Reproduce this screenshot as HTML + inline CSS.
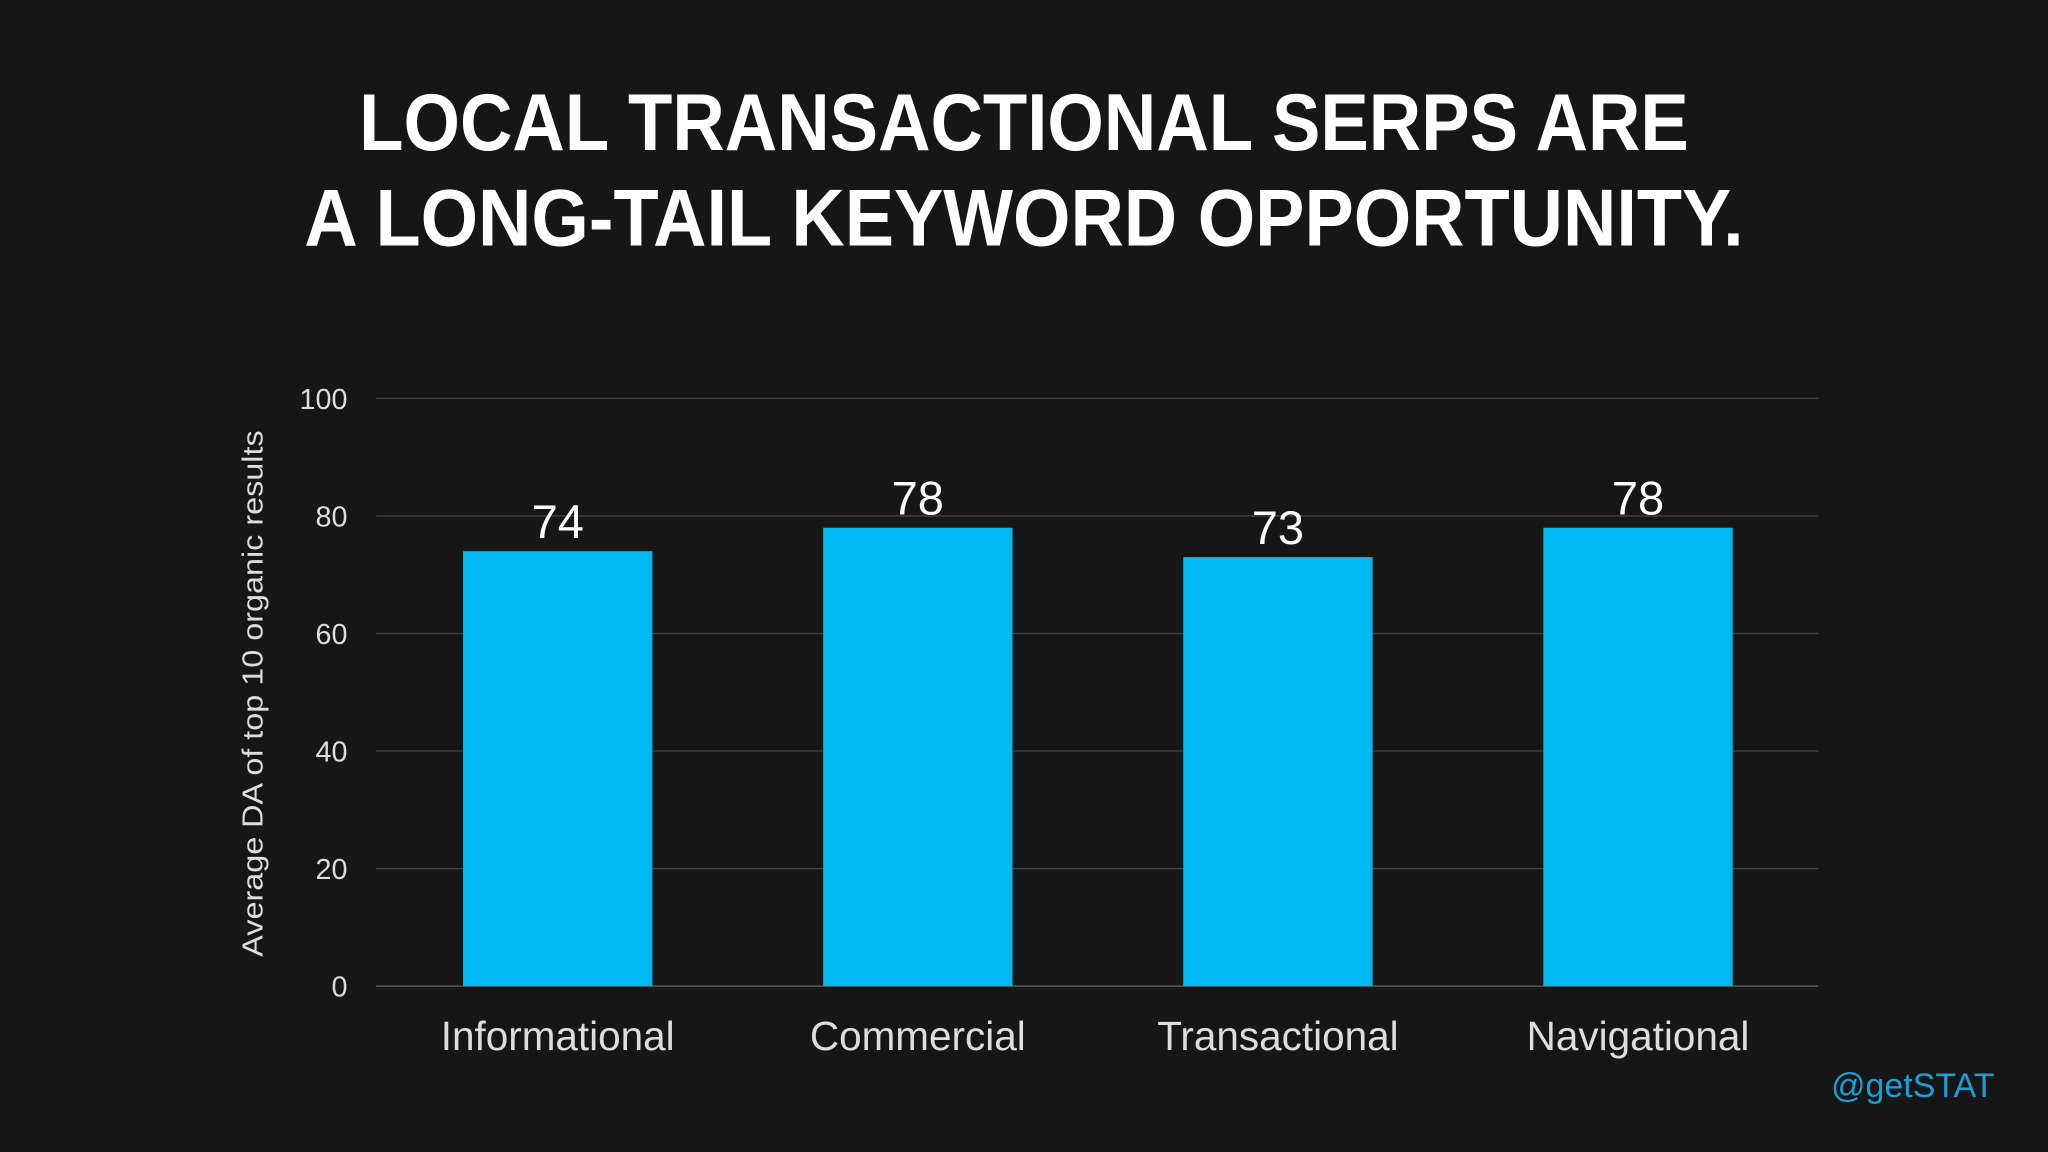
<!DOCTYPE html>
<html><head><meta charset="utf-8"><style>
html,body{margin:0;padding:0;background:#161616;}
svg{display:block;}
text{font-family:"Liberation Sans",sans-serif;}
</style></head><body>
<svg id="chart" width="2048" height="1152" viewBox="0 0 1568 882" xmlns="http://www.w3.org/2000/svg">
<rect width="1568" height="882" fill="#161616"/>
<text x="784" y="115" text-anchor="middle" fill="#fff" font-weight="bold" font-size="62" textLength="1018" lengthAdjust="spacingAndGlyphs">LOCAL TRANSACTIONAL SERPS ARE</text>
<text x="784" y="188" text-anchor="middle" fill="#fff" font-weight="bold" font-size="62" textLength="1102" lengthAdjust="spacingAndGlyphs">A LONG-TAIL KEYWORD OPPORTUNITY.</text>
<g id="grid"></g>
<g id="bars"></g>
<text transform="translate(201,531) rotate(-90)" text-anchor="middle" fill="#ddd" font-size="22" textLength="403" lengthAdjust="spacingAndGlyphs">Average DA of top 10 organic results</text>
<text x="1527" y="840" text-anchor="end" fill="#1a9fd8" font-size="26">@getSTAT</text>
</svg>
<script>
const categories = ["Informational","Commercial","Transactional","Navigational"];
const values = [74,78,73,78];
const ticks = [0,20,40,60,80,100];
const NS="http://www.w3.org/2000/svg";
const y0=755, y100=305, xL=288, xR=1392;
function yScale(v){return y0-(v/100)*(y0-y100);}
function xCenter(i){return 427+i*275.7;}
const grid=document.getElementById('grid'), bars=document.getElementById('bars');
function mk(tag,attrs,parent){const e=document.createElementNS(NS,tag);for(const k in attrs)e.setAttribute(k,attrs[k]);parent.appendChild(e);return e;}
ticks.forEach(t=>{
  const l=mk('line',{x1:xL,x2:xR,y1:yScale(t),y2:yScale(t),stroke:t===0?'#666':'#444','stroke-width':1},grid);
  
  
  const tx=mk('text',{x:266,y:yScale(t)+8,'text-anchor':'end',fill:'#ddd','font-size':22},grid);
  tx.textContent=t;
  
  
});
values.forEach((v,i)=>{
  const cx=xCenter(i), w=145;
  const r=mk('rect',{x:cx-w/2,y:yScale(v),width:w,height:y0-yScale(v),fill:'#00b9f0'},bars);
  
  
  const vt=mk('text',{x:cx,y:yScale(v)-10,'text-anchor':'middle',fill:'#fff','font-size':36},bars);
  vt.textContent=v;
  
  
  const ct=mk('text',{x:cx,y:804,'text-anchor':'middle',fill:'#ddd','font-size':31},bars);
  ct.textContent=categories[i];
  
  
});
</script>
</body></html>
